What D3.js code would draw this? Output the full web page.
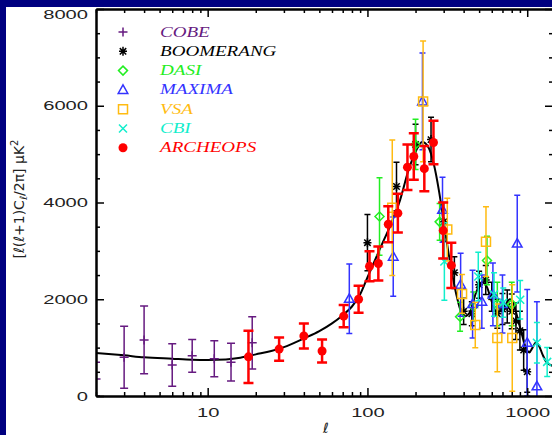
<!DOCTYPE html>
<html>
<head>
<meta charset="utf-8">
<script src="https://cdn.jsdelivr.net/npm/d3@7"></script>
<style>
  body { margin: 0; background: #fff; }
  svg { display: block; }
</style>
</head>
<body>
<svg id="chart" width="552" height="435"></svg>
<script>
// ---- data (multipole l, band power in uK^2, 1-sigma error) ----
const cobeL = [2, 3, 4, 6, 8, 11, 14, 19];
const cobeV = [350, 800, 1160, 640, 830, 770, 700, 1100];
const cobeE = [350, 640, 700, 440, 340, 370, 390, 540];

const boomL = [100, 152, 200, 250, 300, 350, 400, 450, 500, 550, 600, 650, 700, 750, 800, 850, 900, 950, 1000];
const boomV = [3170, 4330, 5200, 5300, 3600, 2550, 1750, 1700, 2300, 2400, 2050, 1700, 1800, 1850, 1750, 1550, 1350, 950, 500];
const boomE = [580, 500, 420, 460, 400, 330, 270, 250, 280, 300, 300, 300, 320, 340, 360, 380, 400, 420, 420];

const dasiL = [119, 200, 283, 380, 460, 560, 650, 800];
const dasiV = [3710, 5200, 3600, 1640, 1850, 2800, 1900, 1900];
const dasiE = [800, 520, 380, 300, 300, 500, 450, 450];

const maxiL = [77, 145, 221, 295, 383, 455, 520, 610, 700, 866, 1000, 1150];
const maxiV = [2010, 2880, 6090, 3850, 2300, 1900, 1950, 2100, 1900, 3150, 1100, 200];
const maxiE = [720, 820, 1000, 670, 650, 700, 550, 650, 600, 1000, 1100, 1750];

const vsaL = [143, 223, 316, 391, 473, 552, 650, 806];
const vsaV = [3890, 6090, 3440, 2110, 1470, 3190, 1200, 1200];
const vsaE = [1400, 1250, 650, 400, 470, 720, 700, 1100];

const cbiL = [303, 494, 620, 708, 904, 1150, 1333];
const cbiV = [2780, 2470, 2100, 1930, 1990, 1100, 705];
const cbiE = [800, 500, 450, 300, 400, 420, 300];

const archL = [18, 28, 40, 52, 71, 88, 103, 117, 135, 155, 178, 195, 227, 259, 298, 335];
const archV = [810, 970, 1240, 930, 1650, 2000, 2680, 2740, 3550, 3780, 4730, 4950, 4700, 5240, 3420, 2700];
const archE = [540, 240, 260, 240, 230, 280, 310, 350, 370, 400, 470, 480, 470, 450, 580, 470];

// model curve
const theoryL = [2, 3, 4, 6, 8, 10, 13, 16, 20, 25, 30, 40, 50, 60, 70, 80, 90, 100, 120, 140, 160, 180, 200, 220, 240, 260, 280, 300, 320, 340, 360, 380, 410, 440, 480, 520, 560, 600, 640, 680, 720, 780, 830, 880, 930, 980, 1030, 1080, 1130, 1180, 1250, 1320, 1450];
const theoryV = [890, 840, 800, 770, 750, 745, 755, 790, 860, 930, 1010, 1190, 1340, 1500, 1670, 1850, 2100, 2450, 3050, 3550, 4050, 4650, 5050, 5250, 5150, 4800, 4250, 3600, 3000, 2500, 2100, 1800, 1650, 1750, 2150, 2350, 2250, 1950, 1750, 1750, 1850, 2000, 1850, 1550, 1250, 1000, 900, 1000, 1100, 1050, 850, 700, 620];

const yTicks = [0, 2000, 4000, 6000, 8000];
const xLabels = [10, 100, 1000];
const names = ["COBE", "BOOMERANG", "DASI", "MAXIMA", "VSA", "CBI", "ARCHEOPS"];

// ---- setup ----
const W = 552, H = 435;
const pLeft = 96, pRight = 553, pTop = 9, pBottom = 396;

const x = d3.scaleLog().domain([2, 1450]).range([pLeft, pRight]);
const y = d3.scaleLinear().domain([0, 8000]).range([pBottom, pTop]);

const svg = d3.select("#chart");
svg.append("rect").attr("width", W).attr("height", H).attr("fill", "#fff");

const shapes = {
  plus: "M-4.5,0H4.5M0,-4.5V4.5",
  star: "M-4,0H4M0,-4.5V4.5M-3.2,-3.2L3.2,3.2M-3.2,3.2L3.2,-3.2",
  diamond: "M0,-4.5L4.5,0L0,4.5L-4.5,0Z",
  triangle: "M0,-5L4.8,3.5L-4.8,3.5Z",
  square: "M-4.5,-4.5H4.5V4.5H-4.5Z",
  cross: "M-4,-4L4,4M-4,4L4,-4"
};

const sets = [
  {name: names[0], color: "#661a80", shape: "plus", l: cobeL, v: cobeV, e: cobeE, sw: 1.5, cap: 4},
  {name: names[1], color: "#000000", shape: "star", l: boomL, v: boomV, e: boomE, sw: 1.5, cap: 3},
  {name: names[2], color: "#22ee22", shape: "diamond", l: dasiL, v: dasiV, e: dasiE, sw: 1.5, cap: 3},
  {name: names[3], color: "#3333ff", shape: "triangle", l: maxiL, v: maxiV, e: maxiE, sw: 1.5, cap: 3},
  {name: names[4], color: "#ffbb11", shape: "square", l: vsaL, v: vsaV, e: vsaE, sw: 1.5, cap: 3},
  {name: names[5], color: "#11eecc", shape: "cross", l: cbiL, v: cbiV, e: cbiE, sw: 1.5, cap: 3},
  {name: names[6], color: "#ff0000", shape: "circle", l: archL, v: archV, e: archE, sw: 2.5, cap: 5}
];

svg.append("defs").append("clipPath").attr("id", "plotclip")
  .append("rect").attr("x", pLeft).attr("y", pTop)
  .attr("width", pRight - pLeft).attr("height", pBottom - pTop);

const plot = svg.append("g").attr("clip-path", "url(#plotclip)");

// model curve
const line = d3.line()
  .x(d => x(d[0]))
  .y(d => y(d[1]))
  .curve(d3.curveMonotoneX);

plot.append("path")
  .datum(theoryL.map((l, i) => [l, theoryV[i]]))
  .attr("d", line)
  .attr("fill", "none")
  .attr("stroke", "#000")
  .attr("stroke-width", 2);

function drawMarker(g, shape, color) {
  if (shape === "circle") {
    g.append("circle").attr("r", 4.5).attr("fill", color);
  } else {
    g.append("path").attr("d", shapes[shape])
      .attr("fill", "none").attr("stroke", color).attr("stroke-width", 1.5);
  }
}

// data points with error bars
sets.forEach(s => {
  const pts = s.l.map((l, i) => ({l: l, v: s.v[i], e: s.e[i]}));
  const g = plot.append("g").attr("class", "set");
  const bars = g.selectAll("g.pt").data(pts).enter().append("g").attr("class", "pt");

  bars.append("path")
    .attr("d", d => {
      const px = x(d.l), y1 = y(d.v - d.e), y2 = y(d.v + d.e);
      return `M${px},${y1}V${y2}M${px - s.cap},${y1}H${px + s.cap}M${px - s.cap},${y2}H${px + s.cap}`;
    })
    .attr("fill", "none")
    .attr("stroke", s.color)
    .attr("stroke-width", s.sw);

  bars.each(function(d) {
    const m = d3.select(this).append("g").attr("transform", `translate(${x(d.l)},${y(d.v)})`);
    drawMarker(m, s.shape, s.color);
  });
});

// ---- axes ----
function styleAxis(g) {
  g.select(".domain").attr("stroke", "#000").attr("stroke-width", 2);
  g.selectAll(".tick line").attr("stroke", "#000").attr("stroke-width", 1.5);
}

function stretchLabels(g, k) {
  g.selectAll(".tick text")
    .attr("fill", "#222")
    .style("font-family", "'Liberation Sans', Arial, sans-serif")
    .style("font-size", "13px")
    .each(function() {
      const w = this.getComputedTextLength();
      d3.select(this).attr("textLength", w * k).attr("lengthAdjust", "spacingAndGlyphs");
    });
}

const xMinor = x.ticks().filter(t => xLabels.indexOf(t) < 0);
const yMinor = d3.range(0, 8001, 500).filter(t => yTicks.indexOf(t) < 0);

// bottom
svg.append("g").attr("transform", `translate(0,${pBottom})`)
  .call(d3.axisBottom(x).tickValues(xMinor).tickSize(-4).tickSizeOuter(0).tickFormat(""))
  .call(styleAxis);
const xb = svg.append("g").attr("transform", `translate(0,${pBottom})`)
  .call(d3.axisBottom(x).tickValues(xLabels).tickSize(-8).tickSizeOuter(0).tickPadding(12).tickFormat(d3.format("d")))
  .call(styleAxis);
stretchLabels(xb, 1.55);

// top
svg.append("g").attr("transform", `translate(0,${pTop})`)
  .call(d3.axisTop(x).tickValues(xMinor).tickSize(-4).tickSizeOuter(0).tickFormat(""))
  .call(styleAxis);
svg.append("g").attr("transform", `translate(0,${pTop})`)
  .call(d3.axisTop(x).tickValues(xLabels).tickSize(-8).tickSizeOuter(0).tickFormat(""))
  .call(styleAxis);

// left
svg.append("g").attr("transform", `translate(${pLeft},0)`)
  .call(d3.axisLeft(y).tickValues(yMinor).tickSize(-4).tickSizeOuter(0).tickFormat(""))
  .call(styleAxis);
const yl = svg.append("g").attr("transform", `translate(${pLeft},0)`)
  .call(d3.axisLeft(y).tickValues(yTicks).tickSize(-8).tickSizeOuter(0).tickPadding(8).tickFormat(d3.format("d")))
  .call(styleAxis);
stretchLabels(yl, 1.55);
yl.selectAll(".tick text").filter(d => d === 8000).attr("dy", "0.75em");

// right
svg.append("g").attr("transform", `translate(${pRight},0)`)
  .call(d3.axisRight(y).tickValues(yMinor).tickSize(-4).tickSizeOuter(0).tickFormat(""))
  .call(styleAxis);
svg.append("g").attr("transform", `translate(${pRight},0)`)
  .call(d3.axisRight(y).tickValues(yTicks).tickSize(-8).tickSizeOuter(0).tickFormat(""))
  .call(styleAxis);

// axis titles
const yTitle = svg.append("text")
  .attr("transform", "translate(24,199) rotate(-90)")
  .attr("text-anchor", "middle")
  .attr("fill", "#222")
  .style("font-family", "'DejaVu Sans', sans-serif")
  .style("font-size", "14px");
yTitle.append("tspan").text("[ℓ(ℓ+1)C");
yTitle.append("tspan").attr("font-size", "10px").attr("dy", 3).text("ℓ");
yTitle.append("tspan").attr("dy", -3).text("/2π]  μK");
yTitle.append("tspan").attr("font-size", "10px").attr("dy", -6).text("2");

svg.append("text")
  .attr("x", 326).attr("y", 433)
  .attr("text-anchor", "middle")
  .attr("fill", "#222")
  .style("font-family", "'DejaVu Sans', sans-serif")
  .style("font-size", "14px")
  .text("ℓ");

// ---- legend ----
const legend = svg.append("g").attr("class", "legend");
sets.forEach((s, i) => {
  const cy = 32 + i * 19.3;
  const m = legend.append("g").attr("transform", `translate(123,${cy})`);
  drawMarker(m, s.shape, s.color);
  const t = legend.append("text")
    .attr("x", 160).attr("y", cy + 4.5)
    .attr("fill", s.color)
    .style("font-family", "'Liberation Serif', 'DejaVu Serif', serif")
    .style("font-style", "italic")
    .style("font-size", "14px")
    .text(s.name);
  const w = t.node().getComputedTextLength();
  t.attr("textLength", w * 1.36).attr("lengthAdjust", "spacingAndGlyphs");
});

// navy frame strips at top and left
svg.append("rect").attr("x", 0).attr("y", 0).attr("width", W).attr("height", 7).attr("fill", "#000080");
svg.append("rect").attr("x", 0).attr("y", 0).attr("width", 6).attr("height", H).attr("fill", "#000080");
</script>
</body>
</html>
